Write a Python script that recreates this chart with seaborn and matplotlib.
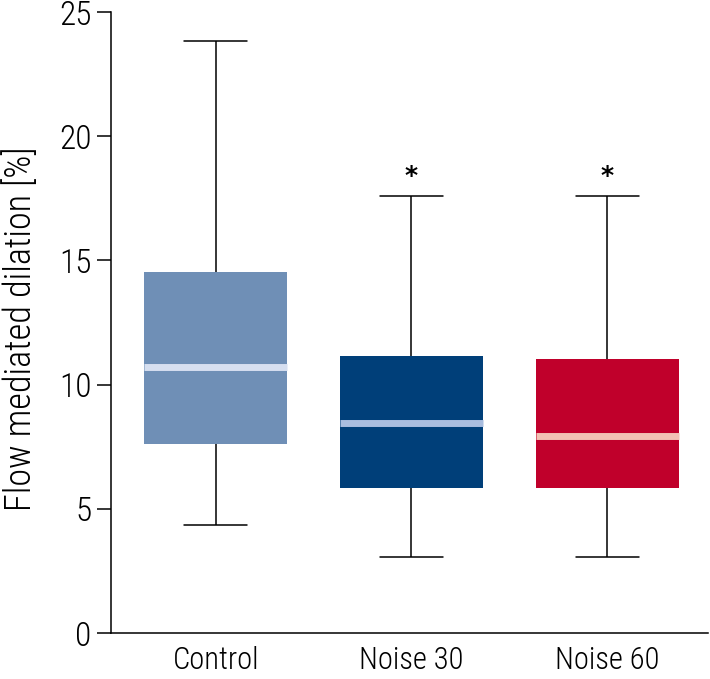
import numpy as np
import pandas as pd
import matplotlib
matplotlib.use("Agg")
import matplotlib.pyplot as plt
import seaborn as sns

# Группы и пятичисловые сводки (min, Q1, медиана, Q3, max)
groups = ["Control", "Noise 30", "Noise 60"]
control = [4.35, 7.6, 10.7, 14.55, 23.85]
noise30 = [3.05, 5.85, 8.45, 11.15, 17.6]
noise60 = [3.05, 5.85, 7.95, 11.05, 17.6]
significant = [False, True, True]

box_colors = ["#6f8fb6", "#003f79", "#c0002b"]
median_colors = ["#d6dff0", "#a9bddf", "#f2c1b4"]

# 5 точек -> квартили при линейной интерполяции совпадают со сводкой
df = pd.DataFrame({
    "group": np.repeat(groups, 5),
    "value": control + noise30 + noise60,
})

sns.set_style("white")
plt.rcParams["font.family"] = ["Roboto Condensed", "DejaVu Sans"]
plt.rcParams["font.weight"] = "light"
plt.rcParams["text.color"] = "black"
plt.rcParams["axes.labelcolor"] = "black"
plt.rcParams["axes.labelweight"] = "light"
plt.rcParams["xtick.color"] = "black"
plt.rcParams["ytick.color"] = "black"

fig = plt.figure(figsize=(7.1, 6.79), dpi=100)
ax = fig.add_axes([0.1563, 0.0677, 0.841, 0.9146])

sns.boxplot(data=df, x="group", y="value", hue="group", order=groups,
            palette=box_colors, saturation=1, whis=(0, 100), width=0.73,
            linecolor="black", linewidth=1.1, capwidths=0.32,
            legend=False, ax=ax)

for cont, fc, mc in zip(ax.containers, box_colors, median_colors):
    for b in cont.boxes:
        b.set_edgecolor(fc)
        b.set_linewidth(0)
    for m in cont.medians:
        m.set_color(mc)
        m.set_linewidth(5)
        m.set_solid_capstyle("butt")

# звёздочки над верхними усами
for i, (g, s) in enumerate(zip(groups, significant)):
    if s:
        top = df.loc[df["group"] == g, "value"].max()
        ax.text(i, top + 0.3, "*", ha="center", va="bottom", fontsize=18,
                family="DejaVu Sans", fontweight="bold", color="black")

ax.set_xlim(-0.535, 2.515)
ax.set_ylim(0, 25)
ax.set_yticks([0, 5, 10, 15, 20, 25])
ax.set_xlabel("")
ax.set_ylabel("Flow mediated dilation [%]", fontsize=26)
ax.yaxis.set_label_coords(-0.12, 0.49)
ax.tick_params(axis="y", length=10, width=1.1, pad=4, labelsize=24,
               direction="out", left=True)
ax.tick_params(axis="x", length=0, pad=9, labelsize=22)
sns.despine(ax=ax)
for sp in ["left", "bottom"]:
    ax.spines[sp].set_linewidth(1.1)
    ax.spines[sp].set_color("black")

fig.savefig("out.png", dpi=100)
